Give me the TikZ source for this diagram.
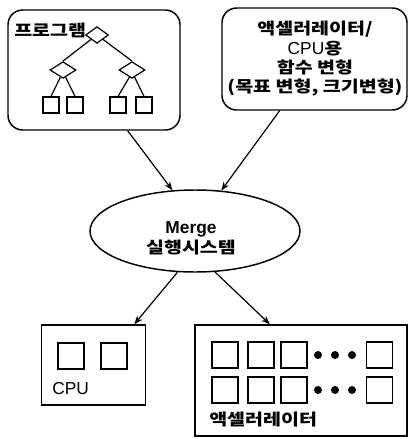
\documentclass[tikz,border=0pt]{standalone}
\usepackage{fontspec}
\setmainfont{Liberation Sans}
\newfontfamily\kr[FakeStretch=1.22]{Noto Sans CJK KR}
\usetikzlibrary{shapes.geometric,arrows.meta}

\begin{document}
\begin{tikzpicture}[>={Stealth[length=6.5pt,width=5pt]},x=0.75pt,y=-0.75pt,
  rbox/.style={draw,rounded corners=11pt,line width=1.1pt,inner sep=0pt},
  sbox/.style={draw,line width=1.1pt,inner sep=0pt},
  dia/.style={draw,diamond,line width=0.9pt,inner sep=0pt,minimum height=12.5pt},
  leaf/.style={draw,line width=0.9pt,minimum size=12pt,inner sep=0pt},
  cell/.style={draw,line width=1pt,minimum size=19.5pt,inner sep=0pt},
  dot/.style={circle,fill,minimum size=6pt,inner sep=0pt},
  lat/.style={font=\fontsize{13}{15}\selectfont,inner sep=0pt},
  kor/.style={font=\kr\bfseries\fontsize{12}{14.5}\selectfont,inner sep=0pt},
  link/.style={line width=0.9pt},
  flow/.style={->,line width=0.9pt}]
  \useasboundingbox (0,0) rectangle (409,439);

  % program tree
  \node[rbox,minimum width=129pt,minimum height=90pt] (prog) at (94,70) {};
  \node[kor,anchor=west] (proglbl) at (14,30) {프로그램};
  \node[dia,minimum width=17.25pt] (root) at (97,35) {};
  \node[dia,minimum width=19.5pt] (dl) at (63,70) {};
  \node[dia,minimum width=19.5pt] (dr) at (132,70) {};
  \node[leaf] (l1) at (51,105) {};
  \node[leaf] (l2) at (75,105) {};
  \node[leaf] (l3) at (118,105) {};
  \node[leaf] (l4) at (144,105) {};
  \draw[link] (root.south west) -- (dl.north);
  \draw[link] (root.south east) -- (dr.north);
  \draw[link] (dl.250) -- (l1.north);
  \draw[link] (dl.290) -- (l2.north);
  \draw[link] (dr.250) -- (l3.north);
  \draw[link] (dr.290) -- (l4.north);

  % conversion box
  \node[rbox,minimum width=138.75pt,minimum height=76.5pt] (conv) at (314.5,59) {};
  \node[kor,align=center] (convtxt) at (315,59)
    {액셀러레이터/\\{\normalfont\fontsize{13}{14.5}\selectfont CPU}용\\함수 변형\\(목표 변형, 크기변형)};

  % merge runtime
  \node[draw,ellipse,line width=1.1pt,minimum width=157.5pt,minimum height=61.5pt,inner sep=0pt] (exec) at (195,231) {};
  \node[align=center,inner sep=0pt,font=\bfseries\fontsize{13}{15}\selectfont] (exectxt) at (191,238)
    {Merge\\{\kr\fontsize{12}{15}\selectfont 실행시스템}};

  % cpu
  \node[sbox,minimum width=78pt,minimum height=60pt] (cpu) at (93.5,365) {};
  \node[cell] (c1) at (71,356) {};
  \node[cell] (c2) at (114,356) {};
  \node[lat,anchor=west] (cpulbl) at (52,389) {CPU};

  % accelerator
  \node[sbox,minimum width=159pt,minimum height=83.25pt] (acc) at (301,380.5) {};
  \node[cell] (a11) at (225,355) {};
  \node[cell] (a12) at (261,355) {};
  \node[cell] (a13) at (294,355) {};
  \node[dot] (d11) at (318,355) {};
  \node[dot] (d12) at (335,355) {};
  \node[dot] (d13) at (352,355) {};
  \node[cell] (a14) at (379.5,355) {};
  \node[cell] (a21) at (225,390) {};
  \node[cell] (a22) at (261,390) {};
  \node[cell] (a23) at (294,390) {};
  \node[dot] (d21) at (318,390) {};
  \node[dot] (d22) at (335,390) {};
  \node[dot] (d23) at (352,390) {};
  \node[cell] (a24) at (379.5,390) {};
  \node[kor,anchor=west] (acclbl) at (209,420) {액셀러레이터};

  % arrows
  \draw[flow] (prog.299.5) -- (exec.119);
  \draw[flow] (conv.236) -- (exec.57);
  \draw[flow] (exec.247) -- (cpu.45.7);
  \draw[flow] (exec.296) -- (acc.119.9);
\end{tikzpicture}
\end{document}
